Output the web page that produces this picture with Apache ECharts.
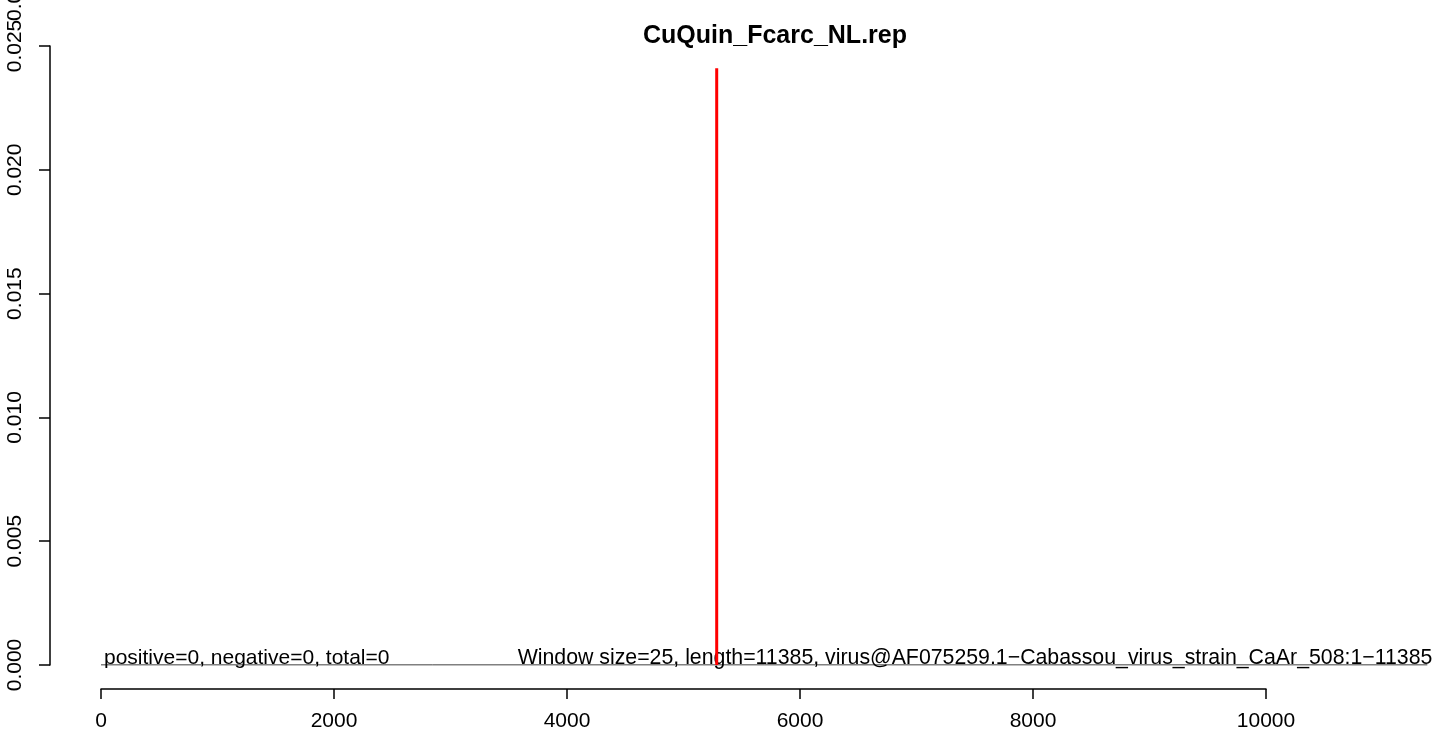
<!DOCTYPE html>
<html>
<head>
<meta charset="utf-8">
<script src="https://cdn.jsdelivr.net/npm/echarts@6/dist/echarts.min.js"></script>
<style>html,body{margin:0;padding:0;background:#fff}#c{width:1439px;height:740px}</style>
</head>
<body>
<div id="c"></div>
<script>
var titleText = "CuQuin_Fcarc_NL.rep";
var xTicks = [0, 2000, 4000, 6000, 8000, 10000];
var yTicks = [0, 0.005, 0.010, 0.015, 0.020, 0.025];
var peakX = [5285, 5285];
var peakY = [0, 0.0241];
var seqLength = 11385;
var baseX = [0, seqLength];
var baseY = [0, 0];
var leftNote = "positive=0, negative=0, total=0";
var rightNote = "Window size=25, length=11385, virus@AF075259.1\u2212Cabassou_virus_strain_CaAr_508:1\u221211385";

var FONT = "Liberation Sans, Arial, Helvetica, sans-serif";
var W = 1439, gridLeft = 101, gridWidth = 1165;
var pxPerUnit = gridWidth / (xTicks[xTicks.length-1] - xTicks[0]);
var chart = echarts.init(document.getElementById('c'), null, {renderer: 'canvas'});
var option = {
  animation: false,
  backgroundColor: '#fff',
  title: {
    text: titleText, left: 770, top: 19, textAlign: 'center',
    textStyle: {fontFamily: FONT, fontSize: 25, fontWeight: 'bold', color: '#000'}
  },
  grid: [
    {left: gridLeft, width: gridWidth, top: 46, bottom: 75, containLabel: false},
    {left: gridLeft, width: seqLength * pxPerUnit, top: 46, bottom: 75, containLabel: false}
  ],
  xAxis: [{
    gridIndex: 0,
    type: 'value', min: xTicks[0], max: xTicks[xTicks.length-1], interval: 2000, offset: 24,
    axisLine: {show: true, onZero: false, lineStyle: {color: '#000', width: 1.5}},
    axisTick: {show: true, length: 10, lineStyle: {color: '#000', width: 1.5}},
    axisLabel: {fontFamily: FONT, fontSize: 21, color: '#000', margin: 22,
      formatter: function (v) { return String(v); }},
    splitLine: {show: false}
  }, {
    gridIndex: 1, type: 'value', min: 0, max: seqLength, show: false
  }],
  yAxis: [{
    gridIndex: 0,
    type: 'value', min: yTicks[0], max: yTicks[yTicks.length-1], interval: 0.005, offset: 51,
    axisLine: {show: true, onZero: false, lineStyle: {color: '#000', width: 1.5}},
    axisTick: {show: true, length: 11, lineStyle: {color: '#000', width: 1.5}},
    axisLabel: {fontFamily: FONT, fontSize: 21, color: '#000', rotate: 90, margin: 24,
      formatter: function (v) { return v.toFixed(3); }},
    splitLine: {show: false}
  }, {
    gridIndex: 1, type: 'value', min: yTicks[0], max: yTicks[yTicks.length-1], show: false
  }],
  series: [
    {
      type: 'line', symbol: 'none', xAxisIndex: 1, yAxisIndex: 1,
      data: baseX.map(function (x, i) { return [x, baseY[i]]; }),
      lineStyle: {color: '#000', width: 1}, z: 2
    },
    {
      type: 'line', symbol: 'none', clip: false, xAxisIndex: 0, yAxisIndex: 0,
      data: peakX.map(function (x, i) { return [x, peakY[i]]; }),
      lineStyle: {color: '#ff0000', width: 3}, z: 3
    }
  ]
};
chart.setOption(option);
var pL = chart.convertToPixel({gridIndex: 1}, [baseX[0], 0]);
var pR = chart.convertToPixel({gridIndex: 1}, [baseX[1], 0]);
chart.setOption({
  graphic: [
    {type: 'text', left: pL[0] + 3, top: pL[1] - 17, z: 1,
      style: {text: leftNote, font: '21px ' + FONT, fill: '#000'}},
    {type: 'text', right: W - pR[0] - 5, top: pR[1] - 17, z: 1,
      style: {text: rightNote, font: '21.3px ' + FONT, fill: '#000'}},
    {type: 'text', x: 15, y: 21, rotation: Math.PI / 2, z: 1,
      style: {text: '0.030', font: '21px ' + FONT, fill: '#000', textAlign: 'left', textVerticalAlign: 'middle'}}
  ]
});
</script>
</body>
</html>
